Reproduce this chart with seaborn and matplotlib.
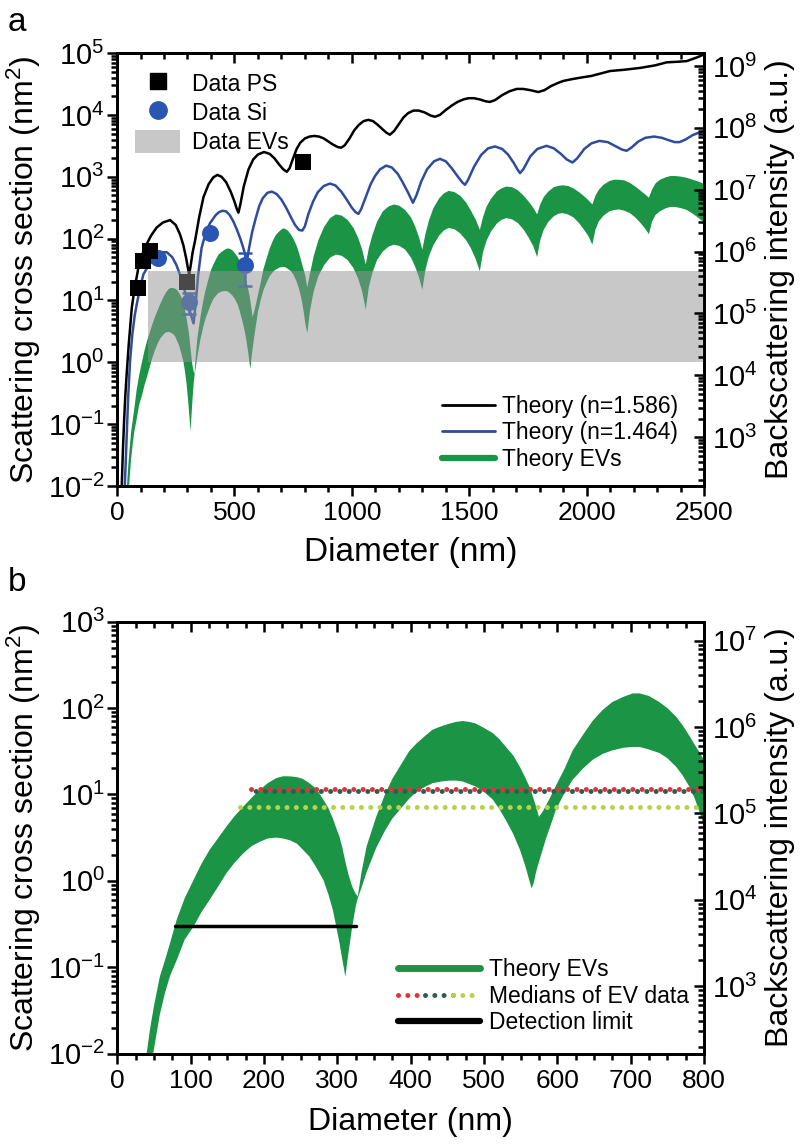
import numpy as np
import pandas as pd
import seaborn as sns
import matplotlib
matplotlib.use("Agg")
import matplotlib.pyplot as plt
from matplotlib.lines import Line2D
from matplotlib.patches import Patch
from matplotlib.legend_handler import HandlerTuple
from matplotlib.ticker import LogLocator, MultipleLocator, NullFormatter, LogFormatterMathtext

# ---------------- data ----------------
# EV theory band: diameter (nm), log10 of upper / lower edge (nm^2)
ev_d = [35, 40, 45, 50, 58, 65, 72, 81, 92, 104, 115, 126, 138, 149, 160, 172, 183, 194, 205, 217,
        226, 235, 245, 253, 262, 271, 281, 288, 294, 299, 303, 307, 311, 315, 320, 325, 328, 333, 340, 353,
        365, 375, 385, 398, 408, 420, 430, 442, 453, 462, 471, 480, 489, 500, 512, 521, 530, 540, 549, 556,
        562, 565, 568, 571, 575, 580, 585, 590, 598, 610, 621, 635, 648, 662, 675, 690, 703, 712, 725, 739,
        750, 762, 771, 780, 787, 793, 800, 808,
        820, 835, 855, 880, 905, 930, 955, 980, 1005, 1025, 1042, 1057,
        1070, 1085, 1105, 1130, 1155, 1177, 1200, 1225, 1250, 1268, 1284, 1298,
        1311, 1326, 1345, 1370, 1390, 1410, 1435, 1460, 1485, 1505, 1525, 1543,
        1556, 1571, 1590, 1615, 1635, 1655, 1680, 1705, 1730, 1750, 1770, 1787,
        1800, 1815, 1835, 1858, 1877, 1895, 1918, 1942, 1965, 1985, 2005, 2022,
        2035, 2050, 2070, 2095, 2115, 2135, 2158, 2182, 2205, 2225, 2245, 2263,
        2276, 2291, 2310, 2335, 2355, 2375, 2400, 2425, 2450, 2475, 2500]
ev_upper_log = [-2.6, -2.0, -1.7, -1.45, -1.11, -0.92, -0.72, -0.45, -0.2, 0.01, 0.2, 0.36, 0.5, 0.63, 0.75, 0.86, 0.96, 1.05, 1.13, 1.19,
                1.21, 1.21, 1.20, 1.18, 1.13, 1.07, 0.94, 0.84, 0.72, 0.60, 0.51, 0.38, 0.22, 0.08, -0.06, -0.15, -0.18, 0.10, 0.40, 0.74,
                1.00, 1.18, 1.32, 1.50, 1.59, 1.68, 1.75, 1.79, 1.82, 1.84, 1.85, 1.84, 1.82, 1.77, 1.71, 1.64, 1.55, 1.45, 1.32, 1.20,
                1.09, 1.02, 0.94, 0.86, 0.74, 0.80, 0.88, 0.96, 1.10, 1.30, 1.51, 1.69, 1.85, 1.98, 2.07, 2.13, 2.17, 2.17, 2.14, 2.07,
                2.00, 1.90, 1.80, 1.68, 1.58, 1.50, 1.40, 1.22,
                1.45, 1.72, 1.98, 2.20, 2.34, 2.40, 2.38, 2.31, 2.18, 2.02, 1.83, 1.59,
                1.85, 2.06, 2.28, 2.45, 2.53, 2.56, 2.54, 2.47, 2.35, 2.20, 2.03, 1.83,
                2.08, 2.30, 2.50, 2.66, 2.74, 2.78, 2.76, 2.70, 2.59, 2.46, 2.32, 2.15,
                2.35, 2.52, 2.65, 2.77, 2.82, 2.85, 2.84, 2.79, 2.70, 2.61, 2.51, 2.40,
                2.56, 2.68, 2.77, 2.84, 2.86, 2.87, 2.86, 2.82, 2.76, 2.70, 2.63, 2.56,
                2.70, 2.80, 2.88, 2.94, 2.96, 2.96, 2.95, 2.91, 2.85, 2.79, 2.73, 2.67,
                2.80, 2.90, 2.96, 3.00, 3.02, 3.02, 3.01, 2.99, 2.96, 2.93, 2.89]
ev_lower_log = [-2.8, -2.6, -2.2, -1.95, -1.55, -1.3, -1.1, -0.92, -0.68, -0.53, -0.36, -0.22, -0.06, 0.09, 0.21, 0.32, 0.40, 0.45, 0.49, 0.50,
                0.49, 0.47, 0.43, 0.36, 0.28, 0.16, 0.01, -0.16, -0.34, -0.55, -0.72, -0.92, -1.11, -0.85, -0.55, -0.30, -0.20, -0.08, 0.10, 0.38,
                0.58, 0.72, 0.82, 0.95, 1.03, 1.09, 1.13, 1.15, 1.16, 1.16, 1.15, 1.12, 1.09, 1.03, 0.94, 0.83, 0.70, 0.54, 0.36, 0.18,
                0.00, -0.09, -0.02, 0.10, 0.22, 0.36, 0.50, 0.62, 0.82, 1.02, 1.17, 1.30, 1.40, 1.47, 1.51, 1.54, 1.55, 1.55, 1.52, 1.48,
                1.42, 1.32, 1.22, 1.09, 0.96, 0.82, 0.63, 0.48,
                0.85, 1.15, 1.40, 1.58, 1.70, 1.75, 1.73, 1.66, 1.53, 1.36, 1.15, 0.86,
                1.22, 1.45, 1.66, 1.80, 1.88, 1.91, 1.89, 1.83, 1.70, 1.55, 1.38, 1.18,
                1.50, 1.72, 1.90, 2.06, 2.14, 2.18, 2.16, 2.09, 1.98, 1.85, 1.68, 1.48,
                1.78, 1.97, 2.12, 2.25, 2.31, 2.34, 2.32, 2.26, 2.15, 2.03, 1.89, 1.71,
                1.98, 2.15, 2.28, 2.37, 2.41, 2.42, 2.40, 2.35, 2.26, 2.16, 2.05, 1.91,
                2.15, 2.29, 2.38, 2.45, 2.47, 2.48, 2.46, 2.42, 2.35, 2.27, 2.18, 2.08,
                2.28, 2.39, 2.45, 2.50, 2.52, 2.52, 2.50, 2.47, 2.41, 2.34, 2.26]

# Theory n=1.586 (black)
ps_theory_d = [20, 25, 30, 35, 41, 50, 63, 75, 91, 108, 126, 145, 169, 195, 226, 250, 268, 282, 294, 302,
               307, 313, 322, 332, 350, 368, 390, 410, 427, 445, 465, 485, 500, 510, 517, 525, 540, 560, 580, 600,
               626, 650, 670, 690, 708, 723, 735, 750, 765, 780, 800, 820, 840, 860, 880, 900, 920, 940, 955, 970,
               990, 1010, 1030, 1050, 1070, 1090, 1110, 1130, 1148, 1162, 1180, 1200, 1220, 1240, 1262, 1285, 1310, 1335, 1354, 1375,
               1400, 1425, 1450, 1475, 1496, 1520, 1545, 1570, 1588, 1610, 1640, 1670, 1702, 1730, 1760, 1794, 1820, 1850, 1880, 1901,
               1940, 1986, 2020, 2050, 2100, 2160, 2228, 2290, 2341, 2390, 2426, 2470, 2500]
ps_theory_log = [-2.0, -1.42, -0.95, -0.55, -0.19, 0.30, 0.89, 1.20, 1.53, 1.75, 1.91, 2.05, 2.18, 2.26, 2.30, 2.22, 2.07, 1.90, 1.69, 1.52,
                 1.42, 1.55, 1.78, 1.96, 2.35, 2.67, 2.88, 2.99, 3.03, 3.00, 2.91, 2.75, 2.60, 2.48, 2.42, 2.55, 2.85, 3.12, 3.28, 3.36,
                 3.40, 3.37, 3.30, 3.20, 3.12, 3.08, 3.14, 3.30, 3.45, 3.55, 3.62, 3.65, 3.66, 3.65, 3.62, 3.57, 3.52, 3.48, 3.47, 3.51,
                 3.62, 3.75, 3.84, 3.90, 3.92, 3.90, 3.84, 3.77, 3.71, 3.68, 3.74, 3.85, 3.96, 4.03, 4.07, 4.07, 4.04, 3.99, 3.97, 4.00,
                 4.08, 4.15, 4.21, 4.25, 4.27, 4.27, 4.25, 4.22, 4.21, 4.24, 4.32, 4.38, 4.42, 4.42, 4.40, 4.37, 4.40, 4.47, 4.52, 4.55,
                 4.58, 4.61, 4.63, 4.66, 4.71, 4.73, 4.76, 4.80, 4.85, 4.86, 4.87, 4.93, 4.98]

# Theory n=1.464 (blue)
si_theory_d = [33, 40, 47, 55, 65, 75, 84, 98, 112, 133, 155, 176, 195, 212, 235, 252, 268, 285, 300, 311,
               320, 326, 335, 345, 360, 378, 396, 420, 435, 450, 465, 480, 495, 510, 525, 540, 553, 560, 575, 590,
               605, 620, 640, 659, 680, 700, 720, 740, 758, 775, 789, 800, 815, 835, 855, 880, 907, 930, 955, 980,
               1000, 1015, 1028, 1040, 1060, 1080, 1100, 1120, 1146, 1170, 1195, 1215, 1240, 1260, 1275, 1295, 1320, 1350, 1375, 1400,
               1425, 1450, 1470, 1482, 1495, 1520, 1550, 1580, 1610, 1640, 1665, 1690, 1705, 1716, 1730, 1760, 1790, 1829, 1860, 1890,
               1915, 1940, 1960, 1990, 2020, 2054, 2090, 2125, 2150, 2170, 2190, 2220, 2250, 2287, 2320, 2350, 2375, 2395, 2420, 2450,
               2475, 2500]
si_theory_log = [-2.0, -1.3, -0.6, 0.0, 0.45, 0.75, 0.94, 1.20, 1.42, 1.56, 1.66, 1.74, 1.78, 1.78, 1.70, 1.58, 1.42, 1.20, 0.98, 0.82,
                 0.70, 0.63, 0.95, 1.40, 1.85, 2.10, 2.25, 2.38, 2.43, 2.45, 2.44, 2.38, 2.28, 2.15, 2.00, 1.82, 1.62, 1.80, 2.10, 2.32,
                 2.52, 2.65, 2.74, 2.76, 2.72, 2.63, 2.50, 2.35, 2.22, 2.14, 2.13, 2.20, 2.40, 2.60, 2.75, 2.85, 2.89, 2.86, 2.76, 2.62,
                 2.50, 2.43, 2.40, 2.48, 2.68, 2.88, 3.02, 3.12, 3.18, 3.15, 3.05, 2.92, 2.74, 2.58, 2.70, 2.92, 3.12, 3.25, 3.29, 3.25,
                 3.14, 3.01, 2.91, 2.87, 2.95, 3.16, 3.35, 3.46, 3.49, 3.45, 3.36, 3.22, 3.12, 3.06, 3.12, 3.33, 3.45, 3.50, 3.46, 3.37,
                 3.28, 3.23, 3.30, 3.45, 3.54, 3.58, 3.56, 3.49, 3.44, 3.42, 3.47, 3.57, 3.63, 3.65, 3.63, 3.59, 3.56, 3.56, 3.60, 3.67,
                 3.71, 3.73]

# measured data
ps_d = [91, 112, 141, 297, 792]
ps_v = [16, 44, 62, 20, 1740]
si_d = [176, 308, 396, 545]
si_v = [48, 9.5, 125, 38]
si_err = [4, 3.5, 15, 21]
ev_data_d = [133, 2500]
ev_data_low = [1, 1]
ev_data_high = [30, 30]

# panel b
median_levels = [11.5, 11.1, 7.2]
median_start = [183, 183, 167]
median_end = [800, 800, 800]
det_limit_d = [78.6, 326]
det_limit_v = [0.3, 0.3]

# ---------------- styling ----------------
sns.set_theme(style="ticks")
plt.rcParams["font.family"] = ["Liberation Sans", "DejaVu Sans"]
plt.rcParams["mathtext.fontset"] = "custom"
plt.rcParams["mathtext.rm"] = "Liberation Sans"
plt.rcParams["mathtext.it"] = "Liberation Sans:italic"
plt.rcParams["mathtext.bf"] = "Liberation Sans:bold"
for key in ["axes.edgecolor", "xtick.color", "ytick.color", "text.color", "axes.labelcolor"]:
    plt.rcParams[key] = "black"

GREEN = "#1b9446"
BLUE_LINE = "#2f4c9c"
BLUE_PT = "#2a56b3"
GRAY = "#939393"
RED_DOT = "#e0333c"
DKGREEN_DOT = "#2e5e4c"
LTGREEN_DOT = "#b7d34a"

TICK_FS_Y = 21
TICK_FS_X = 19
LABEL_FS = 23
LEG_FS = 16.5

fig = plt.figure(figsize=(8, 11.46), dpi=100)
axa = fig.add_axes([0.1463, 0.5759, 0.7338, 0.3778])
axb = fig.add_axes([0.1466, 0.0807, 0.7334, 0.3768])


def style_axes(ax, xmax, xmajor, xminor, ylo, yhi, rfac):
    ax.set_yscale("log")
    ax.set_xlim(0, xmax)
    ax.set_ylim(ylo, yhi)
    ax.xaxis.set_major_locator(MultipleLocator(xmajor))
    ax.xaxis.set_minor_locator(MultipleLocator(xminor))
    ax.yaxis.set_major_locator(LogLocator(base=10, numticks=30))
    ax.yaxis.set_minor_locator(LogLocator(base=10, subs=np.arange(2, 10), numticks=30))
    ax.yaxis.set_minor_formatter(NullFormatter())
    ax.yaxis.set_major_formatter(LogFormatterMathtext())
    ax.tick_params(which="both", direction="out", top=False, right=False, width=1.8, color="black")
    ax.tick_params(which="major", length=7)
    ax.tick_params(which="minor", length=4)
    ax.tick_params(axis="y", labelsize=TICK_FS_Y, pad=2)
    ax.tick_params(axis="x", labelsize=TICK_FS_X, pad=4)
    for sp in ax.spines.values():
        sp.set_linewidth(2.0)
        sp.set_color("black")
        sp.set_visible(True)
    sec = ax.secondary_xaxis("top")
    sec.xaxis.set_major_locator(MultipleLocator(xmajor))
    sec.xaxis.set_minor_locator(MultipleLocator(xminor))
    sec.xaxis.set_major_formatter(NullFormatter())
    sec.tick_params(which="both", direction="in", width=1.8, color="black")
    sec.tick_params(which="major", length=7)
    sec.tick_params(which="minor", length=4)
    sec.spines["top"].set_linewidth(2.0)
    tw = ax.twinx()
    tw.set_yscale("log")
    tw.set_ylim(ylo * rfac, yhi * rfac)
    tw.yaxis.set_major_locator(LogLocator(base=10, numticks=30))
    tw.yaxis.set_minor_locator(LogLocator(base=10, subs=np.arange(2, 10), numticks=30))
    tw.yaxis.set_minor_formatter(NullFormatter())
    tw.yaxis.set_major_formatter(LogFormatterMathtext())
    tw.tick_params(which="both", direction="in", width=1.8, color="black")
    tw.tick_params(which="major", length=7, labelsize=TICK_FS_Y, pad=6)
    tw.tick_params(which="minor", length=4)
    for sp in tw.spines.values():
        sp.set_linewidth(2.0)
        sp.set_color("black")
    return tw


ev_up = 10 ** np.array(ev_upper_log)
ev_lo = 10 ** np.array(ev_lower_log)

# ---------------- panel a ----------------
axa.fill_between(ev_d, ev_lo, ev_up, color=GREEN, lw=0, zorder=2)
sns.lineplot(x=ps_theory_d, y=10 ** np.array(ps_theory_log), ax=axa, color="black",
             linewidth=1.8, sort=False, estimator=None, zorder=3)
sns.lineplot(x=si_theory_d, y=10 ** np.array(si_theory_log), ax=axa, color=BLUE_LINE,
             linewidth=1.8, sort=False, estimator=None, zorder=3)
axa.errorbar(si_d, si_v, yerr=si_err, fmt="none", ecolor=BLUE_PT, elinewidth=1.8,
             capsize=5, capthick=1.8, zorder=4)
sns.scatterplot(x=si_d, y=si_v, ax=axa, marker="o", s=150, color=BLUE_PT,
                edgecolor=BLUE_PT, linewidth=0, zorder=5)
sns.scatterplot(x=ps_d, y=ps_v, ax=axa, marker="s", s=130, color="black",
                edgecolor="black", linewidth=0, zorder=5)
axa.fill_between(ev_data_d, ev_data_low, ev_data_high, color=GRAY, alpha=0.5, lw=0, zorder=6)

twa = style_axes(axa, 2500, 500, 100, 1e-2, 1e5, 10 ** 4.21)
axa.set_xlabel("Diameter (nm)", fontsize=24)
axa.xaxis.set_label_coords(0.5, -0.118)
axa.set_ylabel("Scattering cross section (nm$^2$)", fontsize=LABEL_FS)
axa.yaxis.set_label_coords(-0.126, 0.5)
twa.set_ylabel("Backscattering intensity (a.u.)", fontsize=LABEL_FS)
twa.yaxis.set_label_coords(1.104, 0.5)

h_top = [Line2D([], [], marker="s", ls="none", color="black", ms=11),
         Line2D([], [], marker="o", ls="none", color=BLUE_PT, ms=12.5),
         Patch(facecolor=GRAY, alpha=0.5, edgecolor="none")]
leg1 = axa.legend(h_top, ["Data PS", "Data Si", "Data EVs"], loc="upper left",
                  bbox_to_anchor=(0.03, 0.957), frameon=False, fontsize=LEG_FS,
                  handlelength=2.0, handleheight=1.2, labelspacing=0.2,
                  handletextpad=0.5, borderpad=0, borderaxespad=0)
axa.add_artist(leg1)
h_bot = [Line2D([], [], color="black", lw=2.0),
         Line2D([], [], color=BLUE_LINE, lw=2.0),
         Line2D([], [], color=GREEN, lw=4.5)]
axa.legend(h_bot, ["Theory (n=1.586)", "Theory (n=1.464)", "Theory EVs"], loc="lower right",
           bbox_to_anchor=(0.955, 0.035), frameon=False, fontsize=LEG_FS,
           handlelength=2.3, labelspacing=0.15, handletextpad=0.3, borderpad=0, borderaxespad=0)

# ---------------- panel b ----------------
axb.fill_between(ev_d, ev_lo, ev_up, color=GREEN, lw=0, zorder=2)
dot_colors = [RED_DOT, DKGREEN_DOT, LTGREEN_DOT]
dot_offsets = [0, 0.92, 0]
for lvl, x0, x1, c, off in zip(median_levels, median_start, median_end, dot_colors, dot_offsets):
    axb.plot([x0, x1], [lvl, lvl], color=c, lw=3.6, linestyle=(off, (0.01, 1.85)),
             dash_capstyle="round", zorder=4)
sns.lineplot(x=det_limit_d, y=det_limit_v, ax=axb, color="black", linewidth=2.5,
             sort=False, estimator=None, zorder=5)

twb = style_axes(axb, 800, 100, 25, 1e-2, 1e3, 10 ** 4.22)
axb.set_xlabel("Diameter (nm)", fontsize=LABEL_FS)
axb.xaxis.set_label_coords(0.5, -0.124)
axb.set_ylabel("Scattering cross section (nm$^2$)", fontsize=LABEL_FS)
axb.yaxis.set_label_coords(-0.126, 0.5)
twb.set_ylabel("Backscattering intensity (a.u.)", fontsize=LABEL_FS)
twb.yaxis.set_label_coords(1.104, 0.5)

med_handle = tuple(Line2D([], [], color=c, lw=3.6, linestyle=(0, (0.01, 1.85)),
                          dash_capstyle="round") for c in dot_colors)
h_b = [Line2D([], [], color=GREEN, lw=5),
       med_handle,
       Line2D([], [], color="black", lw=4.5)]
axb.legend(h_b, ["Theory EVs", "Medians of EV data", "Detection limit"], loc="lower right",
           bbox_to_anchor=(0.975, 0.045), frameon=False, fontsize=LEG_FS,
           handlelength=3.6, labelspacing=0.15, handletextpad=0.4, borderpad=0, borderaxespad=0,
           handler_map={tuple: HandlerTuple(ndivide=None, pad=0)})

fig.text(0.01, 0.994, "a", fontsize=24, va="top", ha="left")
fig.text(0.01, 0.505, "b", fontsize=24, va="top", ha="left")

fig.savefig("out.png", dpi=100)
